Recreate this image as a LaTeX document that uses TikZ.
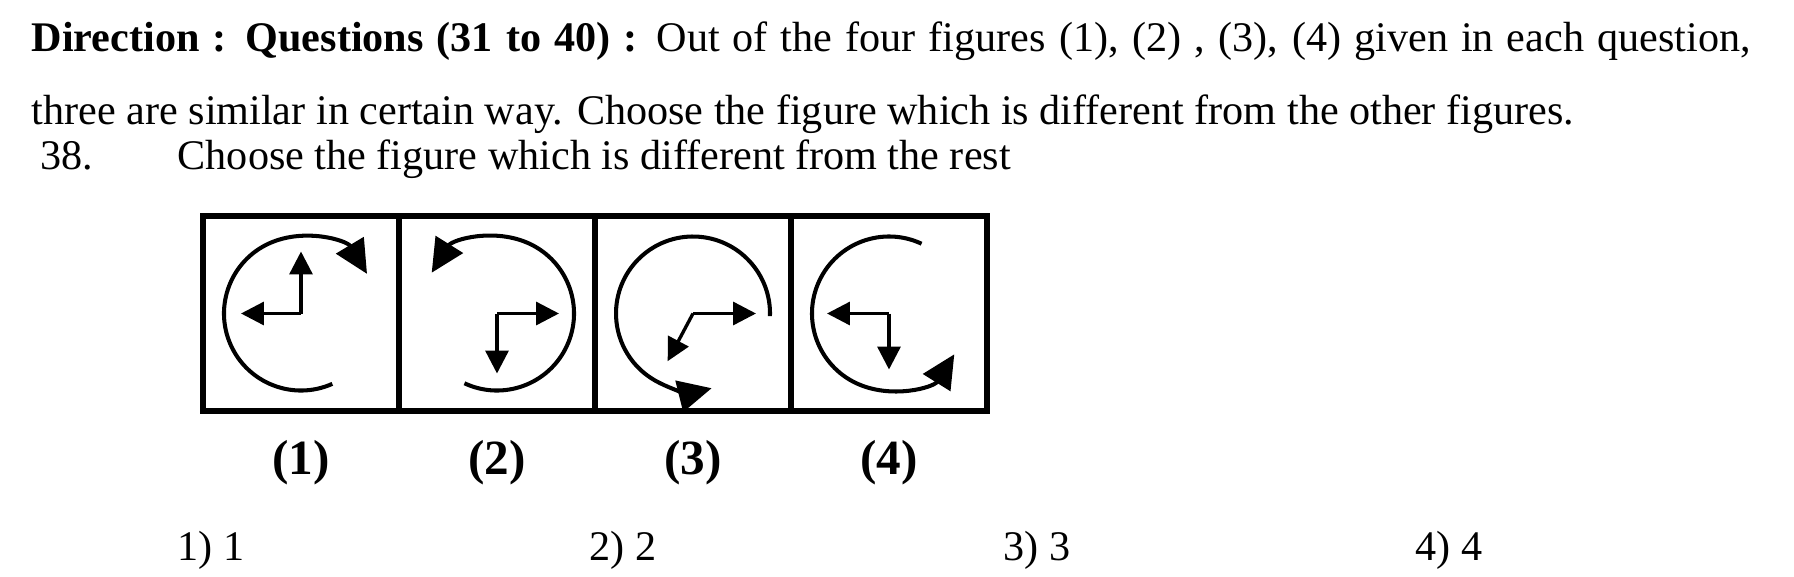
\documentclass[tikz,border=0pt]{standalone}
\usepackage{fontspec}
\setmainfont{Liberation Serif}
\usepackage{xcolor}
\usetikzlibrary{arrows.meta}
\definecolor{inkBlack}{HTML}{000000}
\tikzset{
  panel/.style={
    draw=inkBlack,
    line width=1.5pt,
    minimum width=19.6mm,
    minimum height=19.5mm,
    inner sep=0pt
  },
  hand/.style={-{Triangle[length=6.5pt,width=6.5pt]}, line width=0.95pt, draw=inkBlack},
  sweep/.style={-{Triangle[length=9.5pt,width=9pt]}, line width=1.15pt, draw=inkBlack},
  caption/.style={font=\fontsize{14}{16}\selectfont\bfseries, inner sep=0pt},
  qtext/.style={anchor=base west, inner sep=0pt, font=\fontsize{12}{14}\selectfont}
}

\begin{document}
\begin{tikzpicture}[x=0.1mm, y=0.1mm]
  \useasboundingbox (0,0) rectangle (1794,576);

  \node[qtext] (head) at (31,525) {\makebox[171.9mm][s]{\textbf{Direction : Questions (31 to 40) :} Out of the four figures (1), (2) , (3), (4) given in each question,}};
  \node[qtext] (headTwo) at (31,452) {three are similar in certain way. Choose the figure which is different from the other figures.};
  \node[qtext] (qNum) at (40,407) {38.};
  \node[qtext] (qLine) at (177,407) {Choose the figure which is different from the rest};

  \foreach \i/\x in {1/301,2/497,3/693,4/889} {
    \node[panel] (p\i) at (\x,262.5) {};
    \node[caption] (cap\i) at (\x,113) {(\i)};
  }

  % figure 1
  \draw[sweep, shift={(p1.center)}] (294:77) arc[start angle=294, end angle=31, radius=77];
  \draw[hand] (p1.center) -- ++(90:62);
  \draw[hand] (p1.center) -- ++(180:60);

  % figure 2
  \draw[sweep, shift={(p2.center)}] (245:77) arc[start angle=245, end angle=508, radius=77];
  \draw[hand] (p2.center) -- ++(0:62);
  \draw[hand] (p2.center) -- ++(270:60);

  % figure 3
  \draw[sweep, shift={(p3.center)}] (-2:77) arc[start angle=-2, end angle=284, radius=77];
  \draw[hand] (p3.center) -- ++(0:63);
  \draw[hand] (p3.center) -- ++(242:54);

  % figure 4
  \draw[sweep, shift={(p4.center)}] (65:77) arc[start angle=65, end angle=328, radius=77];
  \draw[hand] (p4.center) -- ++(180:62);
  \draw[hand] (p4.center) -- ++(270:56);

  \node[qtext] (optA) at (177,16) {1) 1};
  \node[qtext] (optB) at (589,16) {2) 2};
  \node[qtext] (optC) at (1003,16) {3) 3};
  \node[qtext] (optD) at (1415,16) {4) 4};
\end{tikzpicture}
\end{document}
